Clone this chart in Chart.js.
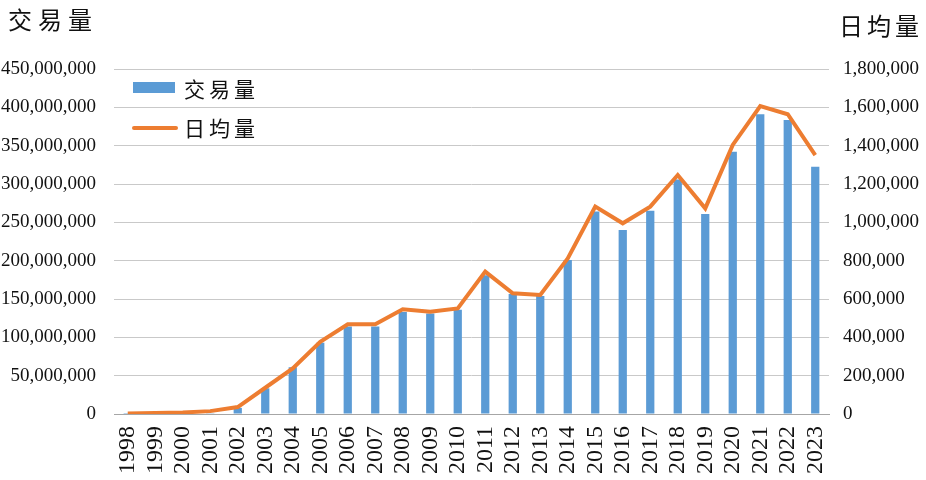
<!DOCTYPE html>
<html>
<head>
<meta charset="utf-8">
<script src="https://cdn.jsdelivr.net/npm/chart.js@4"></script>
<style>
    body { margin: 0; background: #fff; }
    #wrap { width: 926px; height: 480px; position: relative; }
</style>
</head>
<body>
<div id="wrap"><canvas id="grafik"></canvas></div>
<script>
// data
const tahun = ["1998","1999","2000","2001","2002","2003","2004","2005","2006","2007","2008","2009","2010",
    "2011","2012","2013","2014","2015","2016","2017","2018","2019","2020","2021","2022","2023"];
const volume = [100000, 300000, 500000, 1000000, 8000000, 33500000, 61000000, 93000000, 114000000, 114000000,
    133000000, 131000000, 136000000, 181000000, 156500000, 154000000, 201000000, 264000000, 240000000,
    265000000, 306000000, 261000000, 342000000, 391000000, 383500000, 322600000];
const rataHarian = [2000, 5000, 8000, 15000, 36000, 137000, 238000, 377000, 468000, 468000, 546000, 534000,
    551000, 743000, 630000, 621000, 812000, 1082000, 995000, 1082000, 1247000, 1073000, 1404000, 1607000,
    1564000, 1351000];
const labelKiri = "交易量";
const labelKanan = "日均量";

const serif = "'Liberation Serif', 'Times New Roman', serif";
const cjk = "'Noto Sans CJK TC', 'Noto Sans CJK SC', sans-serif";
const biru = "#5b9bd5";
const oranye = "#ed7d31";

function tulisSpasi(ctx, teks, x, y, jarak) {
    for (const ch of teks) {
        ctx.fillText(ch, x, y);
        x += ctx.measureText(ch).width + jarak;
    }
}

const hiasan = {
    id: "hiasan",
    afterDraw(chart) {
        const ctx = chart.ctx;
        ctx.save();
        ctx.fillStyle = "#111";
        ctx.textBaseline = "middle";
        ctx.textAlign = "left";
        // judul sumbu
        ctx.font = "24px " + cjk;
        tulisSpasi(ctx, labelKiri, 8, 20, 6);
        tulisSpasi(ctx, labelKanan, 839, 26, 4);
        // legenda
        ctx.fillStyle = biru;
        ctx.fillRect(133, 82, 42, 11);
        ctx.strokeStyle = oranye;
        ctx.lineWidth = 4;
        ctx.lineCap = "round";
        ctx.beginPath();
        ctx.moveTo(134, 128);
        ctx.lineTo(176, 128);
        ctx.stroke();
        ctx.fillStyle = "#111";
        ctx.font = "21px " + cjk;
        tulisSpasi(ctx, labelKiri, 184, 89, 4);
        tulisSpasi(ctx, labelKanan, 184, 128, 4);
        ctx.restore();
    }
};

const fmt = v => Number(v).toLocaleString("en-US");

new Chart(document.getElementById("grafik"), {
    type: "bar",
    data: {
        labels: tahun,
        datasets: [
            {
                type: "line",
                label: labelKanan,
                data: rataHarian,
                yAxisID: "y1",
                borderColor: oranye,
                borderWidth: 4,
                pointRadius: 0,
                tension: 0,
                order: 0
            },
            {
                label: labelKiri,
                data: volume,
                yAxisID: "y",
                backgroundColor: biru,
                barPercentage: 0.3,
                categoryPercentage: 1,
                order: 1
            }
        ]
    },
    options: {
        responsive: true,
        maintainAspectRatio: false,
        animation: false,
        layout: { padding: { top: 69, right: 0, left: 0, bottom: 0 } },
        plugins: {
            legend: { display: false },
            tooltip: { enabled: false }
        },
        scales: {
            x: {
                grid: { display: false, drawTicks: false },
                border: { color: "#a6a6a6" },
                ticks: {
                    minRotation: 90,
                    maxRotation: 90,
                    autoSkip: false,
                    padding: 12,
                    color: "#111",
                    font: { family: serif, size: 24 }
                },
                afterFit: s => { s.height = 66; }
            },
            y: {
                position: "left",
                min: 0,
                max: 450000000,
                grid: { color: "#c9c9c9", drawTicks: false },
                border: { display: false },
                ticks: {
                    stepSize: 50000000,
                    padding: 18,
                    color: "#111",
                    font: { family: serif, size: 19 },
                    callback: fmt
                },
                afterFit: s => { s.width = 114; }
            },
            y1: {
                position: "right",
                min: 0,
                max: 1800000,
                grid: { display: false, drawTicks: false },
                border: { display: false },
                ticks: {
                    stepSize: 200000,
                    padding: 14,
                    color: "#111",
                    font: { family: serif, size: 19 },
                    callback: fmt
                },
                afterFit: s => { s.width = 97; }
            }
        }
    },
    plugins: [hiasan]
});
</script>
</body>
</html>
